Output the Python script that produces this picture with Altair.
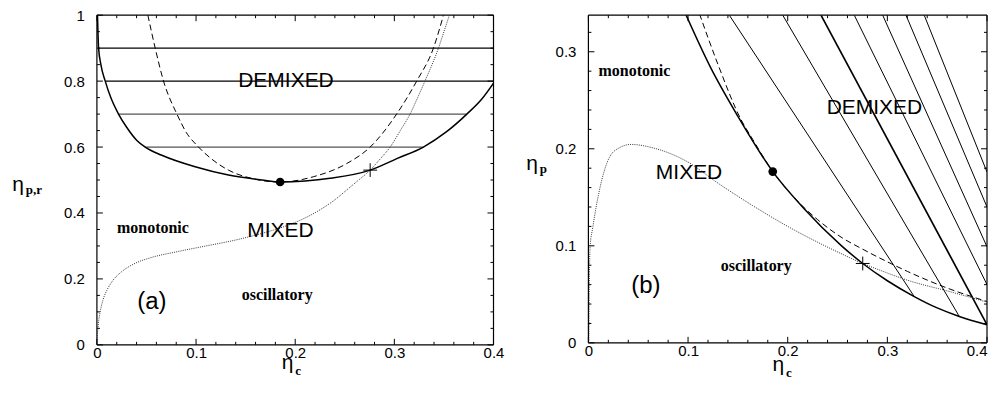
import altair as alt
import pandas as pd

# ---------------- panel (a) : eta_p,r vs eta_c ----------------
A_BIN_X = [0.0006, 0.0017, 0.004, 0.0084, 0.014, 0.0218, 0.03, 0.0403, 0.0487, 0.0655, 0.0991,
           0.1327, 0.1664, 0.1848, 0.21, 0.2352, 0.2756, 0.3025, 0.3293, 0.352, 0.3731, 0.388, 0.4]
A_BIN_Y = [1.0, 0.9, 0.85, 0.8, 0.75, 0.7, 0.66, 0.62, 0.6, 0.575, 0.54,
           0.515, 0.5, 0.494, 0.497, 0.505, 0.53, 0.565, 0.6, 0.645, 0.7, 0.745, 0.794]
A_SPIN_X = [0.0514, 0.0588, 0.0672, 0.0807, 0.09, 0.1025, 0.116, 0.1327, 0.156, 0.1848,
            0.2184, 0.252, 0.2756, 0.3025, 0.3227, 0.3394, 0.3495]
A_SPIN_Y = [1.0, 0.9, 0.8, 0.7, 0.645, 0.6, 0.563, 0.53, 0.505, 0.494,
            0.51, 0.55, 0.6, 0.701, 0.801, 0.9, 1.0]
A_FW_X = [0.0, 0.0005, 0.0015, 0.0033, 0.006, 0.01, 0.016, 0.025, 0.037, 0.055, 0.08, 0.11,
          0.14, 0.165, 0.19, 0.21, 0.2252, 0.24, 0.252, 0.264, 0.2756, 0.286, 0.2958, 0.306,
          0.316, 0.3235, 0.3307, 0.338, 0.3445, 0.35, 0.3555]
A_FW_Y = [0.0, 0.03, 0.065, 0.1, 0.135, 0.165, 0.195, 0.222, 0.245, 0.265, 0.282, 0.3,
          0.318, 0.337, 0.36, 0.385, 0.41, 0.44, 0.47, 0.5, 0.53, 0.565, 0.6, 0.65,
          0.701, 0.75, 0.799, 0.85, 0.9, 0.95, 1.0]
A_TIE_Y = [0.6, 0.7, 0.8, 0.9]
A_TIE_X1 = [0.0487, 0.0218, 0.0084, 0.0017]
A_TIE_X2 = [0.3293, 0.3731, 0.4, 0.4]
A_TIE_COLOR = ["#555555", "#555555", "black", "black"]
A_CRIT = (0.1848, 0.494)
A_CROSS = (0.2756, 0.53)
A_LABELS = ["DEMIXED", "MIXED", "(a)"]
A_LABELS_X = [0.1907, 0.1851, 0.0555]
A_LABELS_Y = [0.783, 0.3274, 0.108]
A_LABELS_SIZE = [21, 21, 24]
A_SERIF = ["monotonic", "oscillatory"]
A_SERIF_X = [0.0565, 0.1818]
A_SERIF_Y = [0.3394, 0.1355]

# ---------------- panel (b) : eta_p vs eta_c ----------------
B_BIN_X = [0.0975, 0.1228, 0.1499, 0.185, 0.2167, 0.2535, 0.2753, 0.3, 0.327, 0.35, 0.3722, 0.4]
B_BIN_Y = [0.339, 0.2834, 0.2337, 0.1765, 0.138, 0.1005, 0.0818, 0.064, 0.0477, 0.036, 0.0272, 0.0187]
B_SPIN_X = [0.1115, 0.13, 0.153, 0.165, 0.185, 0.21, 0.23, 0.2535, 0.2753, 0.3, 0.3204, 0.36, 0.4]
B_SPIN_Y = [0.339, 0.287, 0.2304, 0.2095, 0.1765, 0.146, 0.127, 0.109, 0.0965, 0.0835, 0.0735, 0.0565, 0.0426]
B_FW_X = [0.0005, 0.0008, 0.0017, 0.0044, 0.011, 0.021, 0.031, 0.0428, 0.0646, 0.098, 0.1314,
          0.1649, 0.1983, 0.2535, 0.2753, 0.2935, 0.3204, 0.3638, 0.4]
B_FW_Y = [0.0, 0.05, 0.099, 0.119, 0.157, 0.191, 0.201, 0.2045, 0.201, 0.1874, 0.1636,
          0.1414, 0.121, 0.092, 0.0818, 0.0745, 0.0645, 0.0525, 0.042]
B_TIE_X1 = [0.1414, 0.195, 0.2334, 0.2668, 0.2953, 0.3187, 0.337]
B_TIE_Y1 = [0.3377, 0.3377, 0.3377, 0.3377, 0.3377, 0.3377, 0.3377]
B_TIE_X2 = [0.327, 0.3722, 0.4, 0.4, 0.4, 0.4, 0.4]
B_TIE_Y2 = [0.0477, 0.0272, 0.0187, 0.06, 0.099, 0.14, 0.176]
B_TIE_W = [1, 1, 1.7, 1, 1, 1, 1]
B_CRIT = (0.185, 0.1765)
B_CROSS = (0.2753, 0.0818)
B_LABELS = ["DEMIXED", "MIXED", "(b)"]
B_LABELS_X = [0.287, 0.101, 0.0576]
B_LABELS_Y = [0.2358, 0.1687, 0.0518]
B_LABELS_SIZE = [21, 21, 24]
B_SERIF = ["monotonic", "oscillatory"]
B_SERIF_X = [0.0462, 0.1684]
B_SERIF_Y = [0.2754, 0.0742]

# ---------------- ticks ----------------
X_MAJOR = [0, 0.1, 0.2, 0.3, 0.4]
X_MINOR = [0.02, 0.04, 0.06, 0.08, 0.12, 0.14, 0.16, 0.18, 0.22, 0.24, 0.26, 0.28, 0.32, 0.34, 0.36, 0.38]
A_Y_MAJOR = [0, 0.2, 0.4, 0.6, 0.8, 1]
A_Y_MINOR = [0.05, 0.1, 0.15, 0.25, 0.3, 0.35, 0.45, 0.5, 0.55, 0.65, 0.7, 0.75, 0.85, 0.9, 0.95]
B_Y_MAJOR = [0, 0.1, 0.2, 0.3]
B_Y_MINOR = [0.02, 0.04, 0.06, 0.08, 0.12, 0.14, 0.16, 0.18, 0.22, 0.24, 0.26, 0.28, 0.32]

SANS = "Liberation Sans"
SERIF = "Liberation Serif"


def line_df(xs, ys):
    return pd.DataFrame({"x": xs, "y": ys, "i": list(range(len(xs)))})


def panel(xdom, ydom, w, h, ymaj, ymin, xlab_center, xlab_right,
          bin_x, bin_y, spin_x, spin_y, fw_x, fw_y,
          ties, crit, cross, labels, serif, ytitle_sub, ytitle_pos, xtitle_pos):
    sx = alt.Scale(domain=xdom, nice=False, zero=False)
    sy = alt.Scale(domain=ydom, nice=False, zero=False)

    def X(field="x", axis=None):
        return alt.X(f"{field}:Q", scale=sx, axis=axis)

    def Y(field="y", axis=None):
        return alt.Y(f"{field}:Q", scale=sy, axis=axis)

    common = dict(grid=False, domain=False, title=None, tickOpacity=0,
                  tickSize={"expr": "-6"},
                  labelFont=SANS, labelFontSize=15, labelColor="black",
                  labelFlush=False, labelOverlap=False, format="~g")

    one = pd.DataFrame({"x": [xdom[0]], "y": [ydom[0]]})
    carriers = [
        alt.Chart(one).mark_point(opacity=0).encode(
            x=X(axis=alt.Axis(orient="bottom", values=xlab_center, labelPadding=7, **common)),
            y=Y(axis=alt.Axis(orient="left", values=ymaj, labelPadding=18.5, **common)),
        )
    ]
    if xlab_right:
        carriers.append(alt.Chart(one).mark_point(opacity=0).encode(
            x=X(axis=alt.Axis(orient="bottom", values=xlab_right, labelPadding=7,
                              labelAlign="right", **common))))

    # frame around the plot area
    fr = alt.Chart(pd.DataFrame({"k": [0]})).mark_rule(color="black", strokeWidth=1.2)
    frame = [
        fr.encode(x=alt.value(0), x2=alt.value(w), y=alt.value(0)),
        fr.encode(x=alt.value(0), x2=alt.value(w), y=alt.value(h)),
        fr.encode(y=alt.value(0), y2=alt.value(h), x=alt.value(0)),
        fr.encode(y=alt.value(0), y2=alt.value(h), x=alt.value(w)),
    ]

    # inward tick marks on all four sides, positioned through the scales
    def xticks(vals, size):
        base = alt.Chart(pd.DataFrame({"v": vals})).mark_rule(color="black", strokeWidth=1)
        return [base.encode(x=X("v"), y=alt.value(h), y2=alt.value(h - size)),
                base.encode(x=X("v"), y=alt.value(0), y2=alt.value(size))]

    def yticks(vals, size):
        base = alt.Chart(pd.DataFrame({"v": vals})).mark_rule(color="black", strokeWidth=1)
        return [base.encode(y=Y("v"), x=alt.value(0), x2=alt.value(size)),
                base.encode(y=Y("v"), x=alt.value(w), x2=alt.value(w - size))]

    ticks = xticks(X_MAJOR, 6) + xticks(X_MINOR, 3) + yticks(ymaj, 6) + yticks(ymin, 3)

    binodal = alt.Chart(line_df(bin_x, bin_y)).mark_line(
        color="black", strokeWidth=1.5, interpolate="monotone", clip=True
    ).encode(x=X(), y=Y(), order="i:Q")
    spinodal = alt.Chart(line_df(spin_x, spin_y)).mark_line(
        color="black", strokeWidth=1, strokeDash=[6, 3.5], interpolate="monotone", clip=True
    ).encode(x=X(), y=Y(), order="i:Q")
    fw = alt.Chart(line_df(fw_x, fw_y)).mark_line(
        color="#333333", strokeWidth=1, strokeDash=[1, 1.2], interpolate="monotone", clip=True
    ).encode(x=X(), y=Y(), order="i:Q")

    if "y2" in ties.columns:
        tie = alt.Chart(ties).mark_rule(color="black", clip=True).encode(
            x=X(), y=Y(), x2="x2:Q", y2="y2:Q",
            strokeWidth=alt.StrokeWidth("w:Q", scale=None))
    else:
        tie = alt.Chart(ties).mark_rule(clip=True, strokeWidth=1.2).encode(
            x=X(), x2="x2:Q", y=Y(), color=alt.Color("c:N", scale=None))

    dot = alt.Chart(pd.DataFrame({"x": [crit[0]], "y": [crit[1]]})).mark_point(
        filled=True, color="black", size=75, opacity=1).encode(x=X(), y=Y())
    crs = alt.Chart(pd.DataFrame({"x": [cross[0]], "y": [cross[1]]})).mark_point(
        shape="M-1,0L1,0M0,-1L0,1", filled=False, color="black", strokeWidth=1,
        size=190, opacity=1).encode(x=X(), y=Y())

    big = alt.Chart(labels).mark_text(font=SANS, align="center", baseline="alphabetic",
                                      color="black").encode(
        x=X(), y=Y(), text="t:N", size=alt.Size("s:Q", scale=None))
    small = alt.Chart(serif).mark_text(font=SERIF, fontWeight="bold", fontSize=16,
                                       align="center", baseline="alphabetic",
                                       color="black").encode(x=X(), y=Y(), text="t:N")

    def title(eta_x, eta_y, sub, sub_x, sub_y):
        t1 = alt.Chart(pd.DataFrame({"t": ["η"]})).mark_text(
            font=SANS, fontSize=21, align="left", baseline="alphabetic", color="black"
        ).encode(x=alt.value(eta_x), y=alt.value(eta_y), text="t:N")
        t2 = alt.Chart(pd.DataFrame({"t": [sub]})).mark_text(
            font=SERIF, fontWeight="bold", fontSize=13, align="left", baseline="alphabetic",
            color="black"
        ).encode(x=alt.value(sub_x), y=alt.value(sub_y), text="t:N")
        return [t1, t2]

    ex, ey = ytitle_pos
    tx, ty = xtitle_pos
    titles = title(ex, ey, ytitle_sub, ex + 13.5, ey + 3) + title(tx, ty, "c", tx + 13.5, ty + 6)

    layers = carriers + frame + ticks + [tie, spinodal, fw, binodal, dot, crs, big, small] + titles
    return alt.layer(*layers).resolve_axis(x="independent", y="independent").properties(
        width=w, height=h)


a_ties = pd.DataFrame({"x": A_TIE_X1, "x2": A_TIE_X2, "y": A_TIE_Y, "c": A_TIE_COLOR})
b_ties = pd.DataFrame({"x": B_TIE_X1, "y": B_TIE_Y1, "x2": B_TIE_X2, "y2": B_TIE_Y2, "w": B_TIE_W})

pa = panel([0, 0.4], [0, 1], 397, 330, A_Y_MAJOR, A_Y_MINOR, X_MAJOR, None,
           A_BIN_X, A_BIN_Y, A_SPIN_X, A_SPIN_Y, A_FW_X, A_FW_Y, a_ties, A_CRIT, A_CROSS,
           pd.DataFrame({"t": A_LABELS, "x": A_LABELS_X, "y": A_LABELS_Y, "s": A_LABELS_SIZE}),
           pd.DataFrame({"t": A_SERIF, "x": A_SERIF_X, "y": A_SERIF_Y}),
           "p,r", (-84.7, 176.2), (185, 354))
pb = panel([0, 0.4], [0, 0.3377], 399, 328, B_Y_MAJOR, B_Y_MINOR, X_MAJOR[:-1], X_MAJOR[-1:],
           B_BIN_X, B_BIN_Y, B_SPIN_X, B_SPIN_Y, B_FW_X, B_FW_Y, b_ties, B_CRIT, B_CROSS,
           pd.DataFrame({"t": B_LABELS, "x": B_LABELS_X, "y": B_LABELS_Y, "s": B_LABELS_SIZE}),
           pd.DataFrame({"t": B_SERIF, "x": B_SERIF_X, "y": B_SERIF_Y}),
           "p", (-62.3, 155), (184.4, 356))

chart = alt.hconcat(pa, pb, spacing=21).properties(
    padding={"left": 4, "top": 0, "right": 0, "bottom": 0}, background="white"
).configure_view(stroke=None)

chart.save("out.html", embed_options={"renderer": "svg", "actions": False})
